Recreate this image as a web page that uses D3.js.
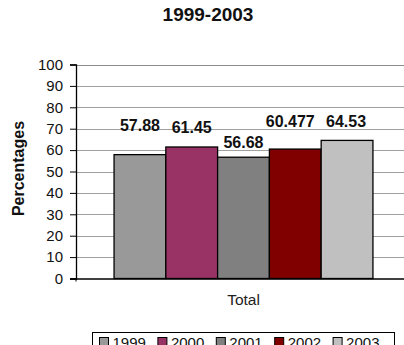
<!DOCTYPE html>
<html>
<head>
<meta charset="utf-8">
<script src="https://cdn.jsdelivr.net/npm/d3@7"></script>
<style>
  html, body { margin: 0; padding: 0; background: #fff; }
  svg { display: block; font-family: "Liberation Sans", Arial, sans-serif; }
</style>
</head>
<body>
<svg id="chart" width="404" height="345"></svg>
<script>
// ---- data ----
const title = "1999-2003";
const category = "Total";
const years = ["1999", "2000", "2001", "2002", "2003"];
const values = [57.88, 61.45, 56.68, 60.477, 64.53];
const yTicks = [0, 10, 20, 30, 40, 50, 60, 70, 80, 90, 100];
const yLabel = "Percentages";

// ---- styles (not data) ----
const colors = ["#999999", "#993366", "#808080", "#800000", "#c0c0c0"];
const labelLift = [24, 13.5, 9.5, 22, 13.5]; // px above bar top (as in the source picture)
const labelShift = [0, 0, 0, -5, -1];

const svg = d3.select("#chart");
const plot = { left: 76, right: 411, top: 64.5, bottom: 278.5 };

const y = d3.scaleLinear().domain([0, 100]).range([plot.bottom, plot.top]);
const x0 = d3.scaleBand().domain([category]).range([plot.left, plot.right]).paddingInner(0).paddingOuter(0.147);
const x = d3.scaleBand().domain(years).range([x0(category), x0(category) + x0.bandwidth()]).padding(0);

// gridlines
svg.append("g")
  .selectAll("line")
  .data(yTicks.filter(d => d > 0))
  .join("line")
  .attr("x1", plot.left).attr("x2", plot.right)
  .attr("y1", d => Math.round(y(d)) + 0.5).attr("y2", d => Math.round(y(d)) + 0.5)
  .attr("stroke", d => d === 100 ? "#8c8c8c" : "#a0a0a0")
  .attr("stroke-width", 1);

// bars
svg.append("g")
  .selectAll("rect")
  .data(years)
  .join("rect")
  .attr("x", d => x(d))
  .attr("y", (d, i) => y(values[i]))
  .attr("width", x.bandwidth())
  .attr("height", (d, i) => y(0) - y(values[i]))
  .attr("fill", (d, i) => colors[i])
  .attr("stroke", "#000")
  .attr("stroke-width", 1.3);

// y axis
const yAxis = d3.axisLeft(y).tickValues(yTicks).tickSize(6).tickPadding(7).tickFormat(d3.format("d"));
const gy = svg.append("g").attr("transform", `translate(${plot.left},0)`).call(yAxis);
gy.select(".domain").attr("stroke", "#000").attr("stroke-width", 1.3);
gy.selectAll(".tick line").attr("stroke", "#000");
gy.selectAll(".tick text").attr("font-size", 15).attr("fill", "#111")
  .attr("font-family", "'Liberation Sans', Arial, sans-serif");

// x axis
const xAxis = d3.axisBottom(x0).tickSize(0).tickPadding(15);
const gx = svg.append("g").attr("transform", `translate(0,${plot.bottom})`).call(xAxis);
gx.select(".domain").attr("stroke", "#000").attr("stroke-width", 1.3).attr("d", `M${plot.left - 6},0.5H${plot.right}`);
gx.selectAll(".tick text").attr("font-size", 15.5).attr("fill", "#222")
  .attr("font-family", "'Liberation Sans', Arial, sans-serif");
svg.append("line").attr("x1", plot.left).attr("x2", plot.left)
  .attr("y1", plot.bottom).attr("y2", plot.bottom + 3).attr("stroke", "#000");

// data labels
svg.append("g")
  .selectAll("text")
  .data(years)
  .join("text")
  .attr("x", d => x(d) + x.bandwidth() / 2)
  .attr("dx", (d, i) => labelShift[i])
  .attr("y", (d, i) => y(values[i]) - labelLift[i])
  .attr("text-anchor", "middle")
  .attr("font-size", 16)
  .attr("font-weight", "bold")
  .attr("fill", "#111")
  .text((d, i) => values[i]);

// title
svg.append("text")
  .attr("x", 208).attr("y", 21)
  .attr("text-anchor", "middle")
  .attr("font-size", 19).attr("font-weight", "bold").attr("fill", "#111")
  .text(title);

// y label
svg.append("text")
  .attr("transform", `translate(24,${(plot.top + plot.bottom) / 2 - 3}) rotate(-90)`)
  .attr("text-anchor", "middle")
  .attr("font-size", 16).attr("font-weight", "bold").attr("fill", "#111")
  .text(yLabel);

// legend
const legend = svg.append("g");
legend.append("rect")
  .attr("x", 92.5).attr("y", 332.5).attr("width", 302).attr("height", 30)
  .attr("fill", "#fff").attr("stroke", "#000").attr("stroke-width", 1);
const items = legend.selectAll("g.item").data(years).join("g")
  .attr("class", "item")
  .attr("transform", (d, i) => `translate(${99 + i * 58.4},0)`);
items.append("rect")
  .attr("x", 0.5).attr("y", 337.5).attr("width", 9).attr("height", 9)
  .attr("fill", (d, i) => colors[i]).attr("stroke", "#000");
items.append("text")
  .attr("x", 13.5).attr("y", 348)
  .attr("font-size", 15).attr("fill", "#111")
  .text(d => d);
</script>
</body>
</html>
